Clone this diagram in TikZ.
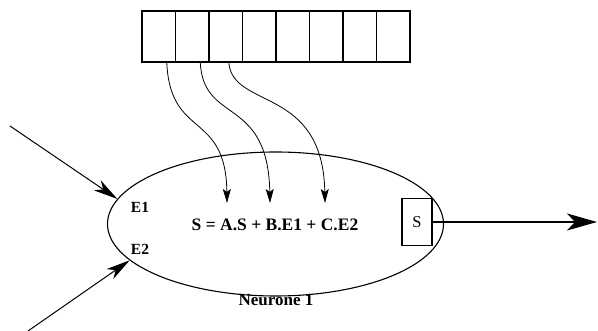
\documentclass[tikz,border=0pt]{standalone}
\usepackage{fontspec}
\setmainfont{Liberation Serif}
\usetikzlibrary{shapes.geometric,arrows.meta}
\begin{document}
\begin{tikzpicture}[x=1pt,y=1pt,
  cell/.style={draw,line width=1.2pt,minimum width=33.5pt,minimum height=51pt,inner sep=0pt,outer sep=0pt},
  wire/.style={line width=0.8pt,-{Stealth[length=14pt,width=8pt,inset=3pt]}},
  inarrow/.style={line width=1pt,-{Stealth[length=24pt,width=12pt,inset=7pt]}},
  outarrow/.style={line width=1.8pt,-{Stealth[length=30pt,width=17pt,inset=8pt]}},
  lbl/.style={font=\bfseries\fontsize{15.5}{15.5}\selectfont,inner sep=0pt}]
\useasboundingbox (0,0) rectangle (598,331);
% register
\foreach \i in {1,...,8}{
  \node[cell] (c\i) at ({142+33.5*(\i-0.5)},{331-36.5}) {};
}
% neuron
\node[draw,ellipse,line width=1.1pt,minimum width=336pt,minimum height=144pt,inner sep=0pt] (n) at (275.5,{331-224}) {};
\node[lbl] (e1) at (140,{331-207}) {E1};
\node[lbl] (e2) at (140,{331-249}) {E2};
\node[font=\bfseries\fontsize{17.5}{17.5}\selectfont,inner sep=0pt] (f) at (275,{331-224.5}) {S = A.S + B.E1 + C.E2};
\node[draw,line width=1.2pt,minimum width=30pt,minimum height=47pt,inner sep=0pt,font=\fontsize{16.5}{16.5}\selectfont] (s) at (417,{331-222}) {S};
\node[font=\bfseries\fontsize{17}{17}\selectfont,inner sep=0pt] (lab) at (276,{331-300}) {Neurone 1};
% coordinates
\coordinate (t1) at (227,{331-203});
\coordinate (t2) at (270,{331-203});
\coordinate (t3) at (325,{331-203});
\coordinate (i1) at (10,{331-126});
\coordinate (i2) at (28,{331-331});
\coordinate (o) at (597,{331-222});
% wires from register
\draw[wire] ([xshift=8pt]c1.south) .. controls (170,{331-140}) and (226,{331-110}) .. (t1);
\draw[wire] ([xshift=8pt]c2.south) .. controls (203,{331-125}) and (268,{331-95}) .. (t2);
\draw[wire] ([xshift=3pt]c3.south) .. controls (232,{331-110}) and (323,{331-85}) .. (t3);
% inputs
\draw[inarrow] (i1) -- (n.171);
\draw[inarrow] (i2) -- (n.194);
% output
\draw[outarrow] (s.east) -- (o);
\end{tikzpicture}
\end{document}
